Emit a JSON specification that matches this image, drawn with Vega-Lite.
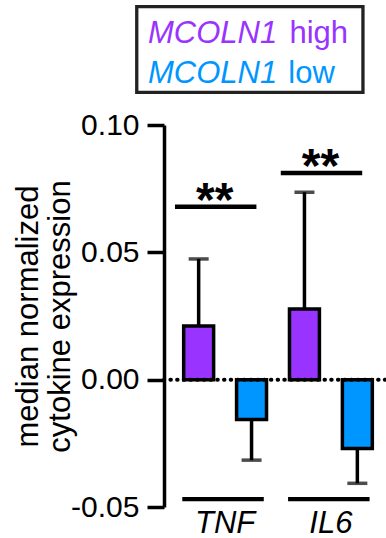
{
  "$schema": "https://vega.github.io/schema/vega-lite/v6.json",
  "width": 228,
  "height": 382,
  "padding": {"left": 12, "top": 5, "right": 0, "bottom": 0},
  "background": "white",
  "config": {
    "view": {"stroke": null},
    "font": "Liberation Sans",
    "axis": {"labelFont": "Liberation Sans", "titleFont": "Liberation Sans", "grid": false}
  },
  "datasets": {
    "bars": [
      {"gene": "TNF", "group": "MCOLN1 high", "value": 0.0211, "err": 0.0474},
      {"gene": "TNF", "group": "MCOLN1 low", "value": -0.0156, "err": -0.0316},
      {"gene": "IL6", "group": "MCOLN1 high", "value": 0.0277, "err": 0.0736},
      {"gene": "IL6", "group": "MCOLN1 low", "value": -0.027, "err": -0.0407}
    ],
    "sig": [
      {"gene": "TNF", "label": "**", "level": 0.0679},
      {"gene": "IL6", "label": "**", "level": 0.0812}
    ],
    "genes": [
      {"gene": "TNF"},
      {"gene": "IL6"}
    ],
    "one": [{"k": 1}]
  },
  "resolve": {"scale": {"x": "independent"}},
  "layer": [
    {
      "encoding": {
        "x": {
          "field": "gene",
          "type": "nominal",
          "sort": ["TNF", "IL6"],
          "scale": {"paddingInner": 0.217, "paddingOuter": 0.186},
          "axis": {
            "title": null,
            "domain": false,
            "ticks": false,
            "tickSize": 0,
            "labelAngle": 0,
            "labelFontSize": 31,
            "labelFontStyle": "italic",
            "labelColor": "black",
            "labelPadding": 1
          }
        },
        "y": {
          "type": "quantitative",
          "scale": {"domain": [-0.05, 0.1], "nice": false, "zero": false},
          "axis": {
            "values": [-0.05, 0, 0.05, 0.1],
            "labelExpr": "datum.value < 0 ? '-' + format(-datum.value, '.2f') : format(datum.value, '.2f')",
            "title": ["median normalized", "cytokine expression"],
            "titleFontSize": 31,
            "titleFontWeight": "normal",
            "titleColor": "black",
            "titleLineHeight": 32,
            "titlePadding": -6,
            "labelFontSize": 30,
            "labelColor": "black",
            "labelPadding": 8,
            "tickSize": 17,
            "tickWidth": 3.5,
            "tickColor": "black",
            "domainColor": "black",
            "domainWidth": 3.5
          }
        }
      },
      "layer": [
        {
          "data": {"name": "bars"},
          "mark": {"type": "rule", "color": "black", "strokeWidth": 3.5},
          "encoding": {
            "xOffset": {"field": "group", "type": "nominal", "scale": {"paddingInner": 0.434, "paddingOuter": 0}},
            "y": {"field": "value"},
            "y2": {"field": "err"}
          }
        },
        {
          "data": {"name": "bars"},
          "mark": {"type": "tick", "color": "black", "size": 20, "thickness": 3.5},
          "encoding": {
            "xOffset": {"field": "group", "type": "nominal", "scale": {"paddingInner": 0.434, "paddingOuter": 0}},
            "y": {"field": "err"}
          }
        },
        {
          "data": {"name": "bars"},
          "mark": {"type": "bar", "stroke": "black", "strokeWidth": 3.5},
          "encoding": {
            "xOffset": {"field": "group", "type": "nominal", "scale": {"paddingInner": 0.434, "paddingOuter": 0}},
            "y": {"field": "value"},
            "color": {
              "field": "group",
              "type": "nominal",
              "scale": {"domain": ["MCOLN1 high", "MCOLN1 low"], "range": ["#9933FF", "#0096FF"]},
              "legend": null
            }
          }
        },
        {
          "data": {"name": "one"},
          "mark": {"type": "rule", "color": "black", "strokeWidth": 4, "strokeDash": [0.5, 6.2], "strokeCap": "round"},
          "encoding": {"x": null, "y": {"datum": 0}}
        },
        {
          "data": {"name": "sig"},
          "mark": {"type": "rule", "color": "black", "strokeWidth": 4.5},
          "encoding": {
            "x": {"field": "gene", "type": "nominal", "sort": ["TNF", "IL6"], "bandPosition": -0.105},
            "x2": {"field": "gene", "bandPosition": 0.878},
            "y": {"field": "level"}
          }
        },
        {
          "data": {"name": "sig"},
          "mark": {"type": "text", "color": "black", "fontSize": 48, "fontWeight": "bold", "align": "center", "baseline": "alphabetic", "dy": 9.5},
          "encoding": {
            "x": {"field": "gene", "type": "nominal", "sort": ["TNF", "IL6"], "bandPosition": 0.375},
            "y": {"field": "level"},
            "text": {"field": "label"}
          }
        },
        {
          "data": {"name": "genes"},
          "mark": {"type": "rule", "color": "black", "strokeWidth": 4.3},
          "encoding": {
            "x": {"field": "gene", "type": "nominal", "sort": ["TNF", "IL6"], "bandPosition": -0.017},
            "x2": {"field": "gene", "bandPosition": 0.967},
            "y": {"datum": -0.0469}
          }
        }
      ]
    },
    {
      "data": {"name": "one"},
      "encoding": {
        "x": {"type": "quantitative", "scale": {"domain": [0, 1], "nice": false, "zero": false}, "axis": null}
      },
      "layer": [
        {
          "mark": {"type": "rect", "fill": "white", "stroke": "#222222", "strokeWidth": 3.3},
          "encoding": {
            "x": {"datum": -0.1195, "type": "quantitative"},
            "x2": {"datum": 0.8726},
            "y": {"datum": 0.14645, "type": "quantitative"},
            "y2": {"datum": 0.11284}
          }
        },
        {
          "mark": {"type": "text", "text": "MCOLN1", "fontStyle": "italic", "fontSize": 31, "color": "#9933FF", "align": "left", "baseline": "alphabetic"},
          "encoding": {"x": {"datum": -0.07, "type": "quantitative"}, "y": {"datum": 0.13208, "type": "quantitative"}}
        },
        {
          "mark": {"type": "text", "text": "high", "fontSize": 31, "color": "#9933FF", "align": "right", "baseline": "alphabetic"},
          "encoding": {"x": {"datum": 0.807, "type": "quantitative"}, "y": {"datum": 0.13208, "type": "quantitative"}}
        },
        {
          "mark": {"type": "text", "text": "MCOLN1", "fontStyle": "italic", "fontSize": 31, "color": "#0096FF", "align": "left", "baseline": "alphabetic"},
          "encoding": {"x": {"datum": -0.07, "type": "quantitative"}, "y": {"datum": 0.11637, "type": "quantitative"}}
        },
        {
          "mark": {"type": "text", "text": "low", "fontSize": 31, "color": "#0096FF", "align": "right", "baseline": "alphabetic"},
          "encoding": {"x": {"datum": 0.749, "type": "quantitative"}, "y": {"datum": 0.11637, "type": "quantitative"}}
        }
      ]
    }
  ]
}
